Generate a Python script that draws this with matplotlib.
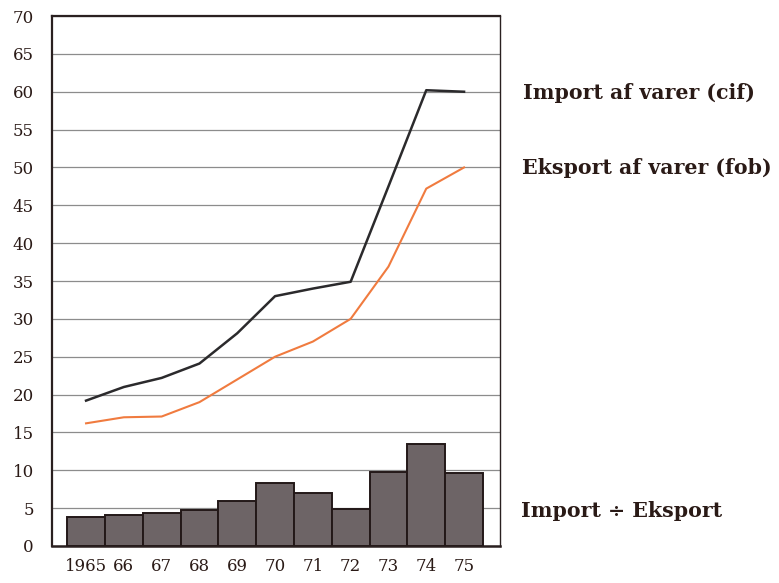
import numpy as np
import matplotlib.pyplot as plt

years = ['1965', '66', '67', '68', '69', '70', '71', '72', '73', '74', '75']
import_cif = [19.2, 21.0, 22.2, 24.1, 28.1, 33.0, 34.0, 34.9, 47.5, 60.2, 60.0]
export_fob = [16.2, 17.0, 17.1, 19.0, 22.0, 25.0, 27.0, 30.0, 36.9, 47.2, 50.0]
difference = [3.8, 4.1, 4.4, 4.7, 6.0, 8.3, 7.0, 4.9, 9.8, 13.5, 9.6]

text_color = '#2a1a16'
plt.rcParams['font.family'] = ['DejaVu Serif']

fig = plt.figure(figsize=(7.79, 5.83), dpi=100)
ax = fig.add_axes([0.0668, 0.0635, 0.575, 0.909])

index = np.arange(len(years))

ax.bar(index, difference, width=1.0, color='#6d6466', edgecolor='#231818', linewidth=1.4, zorder=3)
ax.plot(index, import_cif, color='#2b2a2c', linewidth=1.8, zorder=4)
ax.plot(index, export_fob, color='#f07b3f', linewidth=1.5, zorder=4)

ax.set_xlim(-0.9, 10.95)
ax.set_ylim(0, 70)
ax.set_yticks(np.arange(0, 71, 5))
ax.set_xticks(index)
ax.set_xticklabels(years)
ax.yaxis.grid(True, color='#8c8c8c', linewidth=0.9, zorder=0)
ax.tick_params(length=0, labelsize=12, colors=text_color, pad=13)
ax.tick_params(axis='x', pad=9)

for side, lw in (('left', 1.6), ('bottom', 1.8), ('top', 1.6), ('right', 1.0)):
    ax.spines[side].set_linewidth(lw)
    ax.spines[side].set_color('#2a2020')

fig.text(0.671, 0.840, 'Import af varer (cif)', fontsize=14.8, fontweight='bold',
         color=text_color, va='center')
fig.text(0.670, 0.712, 'Eksport af varer (fob)', fontsize=14.8, fontweight='bold',
         color=text_color, va='center')
fig.text(0.669, 0.124, 'Import \u00f7 Eksport', fontsize=14.8, fontweight='bold',
         color=text_color, va='center')

plt.savefig('out.png', dpi=100)
